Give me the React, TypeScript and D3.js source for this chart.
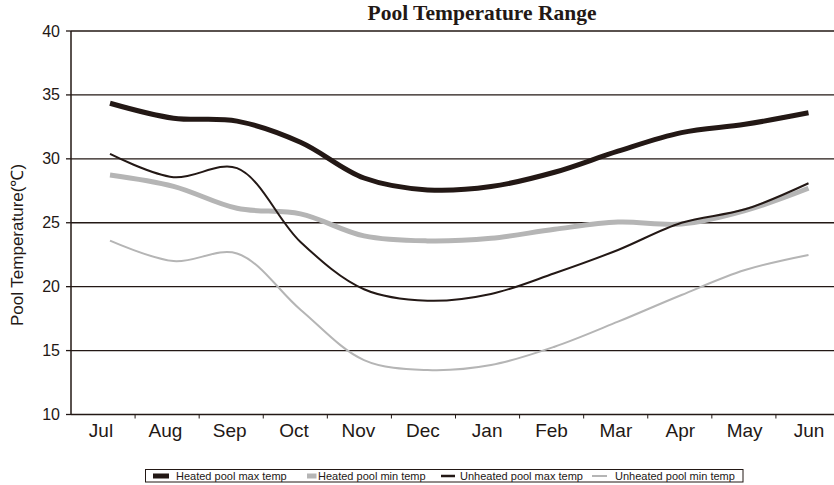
import * as d3 from "d3";

const months = ["Jul", "Aug", "Sep", "Oct", "Nov", "Dec", "Jan", "Feb", "Mar", "Apr", "May", "Jun"];
const yTicks = [10, 15, 20, 25, 30, 35, 40];

const heatedMax = [34.35, 33.18, 32.95, 31.3, 28.5, 27.57, 27.83, 28.95, 30.6, 32.05, 32.7, 33.6];
const heatedMin = [28.74, 27.85, 26.13, 25.69, 23.97, 23.58, 23.79, 24.49, 25.05, 24.9, 25.95, 27.7];
const unheatedMax = [30.38, 28.56, 29.27, 23.5, 19.8, 18.9, 19.43, 21.05, 22.87, 25.0, 26.05, 28.09];
const unheatedMin = [23.6, 22.0, 22.6, 18.2, 14.26, 13.48, 13.87, 15.3, 17.26, 19.35, 21.3, 22.48];

const seriesNames = [
  "Heated pool max temp",
  "Heated pool min temp",
  "Unheated pool max temp",
  "Unheated pool min temp",
];

const INK = "#231815";
const GREY = "#b5b5b5";

export default function App() {
  const width = 834;
  const height = 485;
  const plot = { left: 71, right: 840, top: 31, bottom: 414.5 };

  const y = d3.scaleLinear().domain([10, 40]).range([plot.bottom, plot.top]);
  const xBand = d3.scaleBand().domain(months).range([plot.left, plot.right]);
  const xPoint = d3.scalePoint().domain(months).range([110, 808.5]);
  const xLabel = d3.scalePoint().domain(months).range([101, 809]);

  const line = d3
    .line<number>()
    .x((_, i) => xPoint(months[i]) as number)
    .y((d) => y(d))
    .curve(d3.curveCatmullRom.alpha(0.5));

  const series = [
    { name: seriesNames[0], values: heatedMax, color: INK, w: 5, sw: 16, sh: 5 },
    { name: seriesNames[1], values: heatedMin, color: GREY, w: 5, sw: 9.5, sh: 5 },
    { name: seriesNames[2], values: unheatedMax, color: INK, w: 2, sw: 14, sh: 2.5 },
    { name: seriesNames[3], values: unheatedMin, color: GREY, w: 2, sw: 15, sh: 2 },
  ];

  // legend layout
  const legendX = [153, 307, 441, 592];
  const legendTextX = [176, 318, 460, 615];

  return (
    <svg
      width={width}
      height={height}
      style={{ position: "absolute", left: 0, top: 0, background: "#fff" }}
      fontFamily="Arial, 'Liberation Sans', sans-serif"
    >
      <text
        x={482}
        y={20}
        textAnchor="middle"
        fontFamily="'Liberation Serif', 'Times New Roman', serif"
        fontWeight="bold"
        fontSize={21.5}
        fill={INK}
      >
        Pool Temperature Range
      </text>

      {/* gridlines and y ticks */}
      {yTicks.map((t) => (
        <g key={t}>
          {t > 10 && (
            <line x1={plot.left} x2={width} y1={y(t)} y2={y(t)} stroke={INK} strokeWidth={1.3} />
          )}
          <line x1={plot.left - 5} x2={plot.left} y1={y(t)} y2={y(t)} stroke={INK} strokeWidth={1.3} />
          <text
            x={60}
            y={y(t)}
            textAnchor="end"
            dominantBaseline="central"
            fontSize={16}
            fill={INK}
          >
            {t}
          </text>
        </g>
      ))}

      {/* axes */}
      <line x1={plot.left} x2={plot.left} y1={plot.top} y2={plot.bottom} stroke={INK} strokeWidth={1.5} />
      <line x1={plot.left} x2={width} y1={plot.bottom} y2={plot.bottom} stroke={INK} strokeWidth={1.5} />
      {months.map((m, i) =>
        i === 0 ? null : (
          <line
            key={`tick-${m}`}
            x1={xBand(m)}
            x2={xBand(m)}
            y1={plot.bottom}
            y2={plot.bottom + 4}
            stroke={INK}
            strokeWidth={1}
          />
        )
      )}
      {months.map((m) => (
        <text
          key={`lab-${m}`}
          x={xLabel(m)}
          y={437}
          textAnchor="middle"
          fontSize={19}
          fill={INK}
        >
          {m}
        </text>
      ))}

      <text
        transform={`translate(23,245) rotate(-90)`}
        textAnchor="middle"
        fontSize={17}
        fill={INK}
      >
        Pool Temperature(℃)
      </text>

      {/* lines */}
      {series.map((s) => (
        <path
          key={s.name}
          d={line(s.values) ?? ""}
          fill="none"
          stroke={s.color}
          strokeWidth={s.w}
        />
      ))}

      {/* legend */}
      <rect x={145.5} y={469.5} width={597.5} height={12.5} fill="none" stroke={INK} strokeWidth={1} />
      {series.map((s, i) => (
        <g key={`lg-${s.name}`}>
          <rect
            x={legendX[i]}
            y={476 - s.sh / 2}
            width={s.sw}
            height={s.sh}
            fill={s.color}
          />
          <text x={legendTextX[i]} y={480} fontSize={11} fill={INK}>
            {s.name}
          </text>
        </g>
      ))}
    </svg>
  );
}
